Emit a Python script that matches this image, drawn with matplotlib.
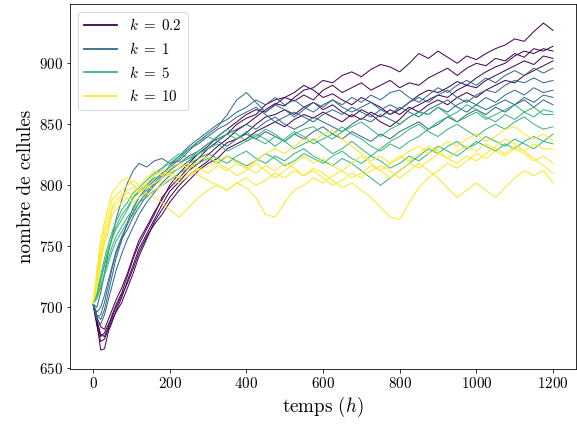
import numpy as np
import matplotlib
matplotlib.use("Agg")
import matplotlib.pyplot as plt
from matplotlib.lines import Line2D

plt.rcParams['font.family'] = 'serif'
plt.rcParams['font.serif'] = ['cmr10', 'DejaVu Serif']
plt.rcParams['mathtext.fontset'] = 'cm'
plt.rcParams['axes.formatter.use_mathtext'] = True
plt.rcParams['axes.unicode_minus'] = False

# time grid (h)
temps = [0, 10, 20, 30, 40, 50, 60, 75, 90, 105, 120, 140, 160, 180, 200,
         225, 250, 275, 300, 325, 350, 375, 400, 425, 450, 475, 500, 525, 550, 575, 600,
         625, 650, 675, 700, 725, 750, 775, 800, 825, 850, 875, 900, 925, 950, 975, 1000,
         1025, 1050, 1075, 1100, 1125, 1150, 1175, 1200]

k_labels = [r"$k\;=\;0.2$", r"$k\;=\;1$", r"$k\;=\;5$", r"$k\;=\;10$"]

# k = 0.2
k02_run1 = [703, 688, 665, 666, 680, 688, 697, 708, 722, 735, 748, 760, 772, 784, 795,
            803, 812, 818, 825, 832, 838, 845, 850, 856, 862, 867, 865, 872, 878, 880, 886,
            884, 890, 893, 889, 895, 899, 897, 893, 900, 908, 904, 910, 905, 900, 906, 903,
            908, 912, 915, 920, 918, 926, 933, 927]
k02_run2 = [703, 690, 678, 676, 684, 694, 702, 712, 726, 740, 752, 764, 776, 790, 798,
            806, 815, 822, 830, 836, 842, 850, 855, 858, 866, 870, 872, 876, 882, 878, 872,
            875, 870, 866, 872, 868, 864, 858, 862, 868, 874, 878, 876, 880, 885, 882, 888,
            893, 897, 900, 906, 910, 908, 912, 910]
k02_run3 = [703, 685, 672, 674, 682, 690, 696, 704, 716, 728, 742, 756, 770, 780, 790,
            800, 808, 814, 820, 828, 835, 838, 843, 850, 856, 858, 862, 858, 864, 868, 862,
            866, 860, 856, 862, 858, 852, 848, 854, 862, 866, 870, 874, 872, 878, 882, 880,
            886, 890, 894, 898, 902, 899, 906, 904]
k02_run4 = [703, 692, 684, 682, 690, 698, 706, 716, 728, 742, 755, 766, 778, 788, 800,
            810, 818, 826, 832, 840, 846, 852, 858, 862, 860, 866, 872, 869, 874, 870, 878,
            882, 876, 880, 884, 878, 882, 886, 880, 884, 882, 888, 892, 896, 890, 896, 900,
            898, 904, 902, 908, 905, 912, 910, 914]
k02_run5 = [703, 688, 676, 679, 686, 692, 700, 710, 720, 732, 745, 758, 768, 776, 786,
            796, 804, 812, 818, 822, 830, 834, 838, 844, 848, 852, 848, 854, 858, 855, 860,
            856, 852, 858, 854, 860, 856, 862, 858, 864, 860, 866, 870, 866, 872, 876, 872,
            878, 882, 886, 884, 890, 894, 898, 902]

# k = 1
k1_run1 = [703, 700, 712, 728, 745, 758, 772, 788, 802, 812, 818, 815, 820, 822, 818,
           820, 828, 836, 842, 848, 858, 870, 876, 868, 860, 866, 862, 856, 862, 868, 864,
           870, 866, 872, 868, 874, 870, 876, 878, 872, 868, 874, 880, 876, 882, 886, 882,
           888, 884, 890, 894, 890, 896, 892, 896]
k1_run2 = [703, 694, 690, 698, 712, 726, 740, 755, 770, 782, 790, 798, 804, 810, 814,
           822, 830, 834, 840, 846, 850, 856, 860, 864, 858, 852, 856, 860, 856, 852, 858,
           862, 858, 864, 860, 856, 862, 866, 862, 868, 872, 868, 874, 878, 872, 868, 874,
           878, 876, 882, 886, 884, 888, 884, 886]
k1_run3 = [703, 692, 694, 704, 718, 732, 744, 756, 764, 774, 782, 792, 800, 806, 812,
           818, 824, 828, 834, 838, 842, 846, 850, 846, 852, 856, 850, 846, 850, 856, 852,
           848, 844, 850, 855, 852, 858, 854, 850, 856, 860, 858, 864, 860, 866, 870, 866,
           872, 868, 874, 878, 874, 880, 876, 878]
k1_run4 = [703, 696, 700, 710, 722, 734, 746, 758, 768, 778, 786, 794, 802, 808, 816,
           824, 832, 838, 844, 850, 854, 860, 864, 870, 866, 872, 866, 870, 864, 860, 866,
           870, 864, 860, 864, 868, 862, 858, 864, 860, 856, 862, 866, 870, 864, 860, 866,
           862, 866, 870, 866, 872, 868, 874, 872]
k1_run5 = [703, 690, 686, 694, 706, 718, 730, 744, 756, 766, 776, 786, 794, 802, 808,
           814, 820, 826, 830, 836, 832, 838, 842, 838, 844, 840, 836, 842, 838, 844, 848,
           842, 838, 844, 840, 836, 842, 838, 844, 848, 852, 846, 850, 856, 852, 858, 862,
           858, 864, 860, 866, 870, 864, 870, 866]

# k = 5
k5_run1 = [703, 712, 726, 740, 752, 762, 770, 780, 786, 794, 798, 804, 810, 814, 818,
           824, 830, 836, 840, 836, 842, 838, 844, 838, 834, 840, 836, 842, 846, 848, 842,
           838, 844, 848, 852, 846, 840, 846, 850, 856, 860, 858, 864, 858, 852, 856, 860,
           854, 858, 862, 866, 860, 864, 858, 858]
k5_run2 = [703, 710, 722, 734, 746, 756, 764, 772, 780, 790, 796, 800, 806, 808, 814,
           818, 822, 826, 830, 834, 828, 832, 836, 840, 846, 842, 836, 830, 834, 838, 832,
           826, 830, 836, 830, 824, 830, 836, 840, 846, 850, 844, 840, 846, 850, 845, 840,
           846, 850, 846, 852, 856, 850, 846, 848]
k5_run3 = [703, 708, 718, 728, 740, 750, 758, 766, 774, 780, 790, 796, 800, 806, 810,
           814, 818, 822, 826, 822, 818, 824, 828, 822, 818, 824, 820, 826, 830, 824, 820,
           816, 822, 818, 812, 806, 800, 806, 812, 818, 824, 830, 826, 832, 836, 830, 834,
           840, 836, 832, 838, 834, 830, 836, 834]
k5_run4 = [703, 711, 724, 736, 748, 758, 766, 776, 782, 790, 794, 800, 808, 814, 820,
           826, 822, 828, 834, 840, 846, 842, 836, 842, 838, 832, 838, 844, 840, 834, 838,
           842, 848, 842, 838, 832, 828, 834, 830, 836, 840, 846, 852, 856, 860, 866, 862,
           856, 852, 858, 854, 860, 856, 862, 860]
k5_run5 = [703, 707, 716, 726, 736, 746, 754, 762, 770, 776, 786, 790, 796, 800, 804,
           810, 814, 818, 822, 818, 824, 820, 816, 820, 826, 822, 816, 820, 826, 822, 818,
           824, 828, 822, 818, 824, 820, 814, 818, 824, 820, 826, 832, 828, 824, 830, 836,
           832, 828, 834, 830, 836, 840, 836, 842]

# k = 10
k10_run1 = [703, 730, 755, 770, 782, 794, 798, 804, 806, 800, 796, 802, 808, 812, 808,
            814, 818, 812, 816, 820, 824, 818, 814, 820, 826, 830, 826, 832, 838, 836, 842,
            845, 838, 832, 826, 820, 824, 818, 822, 828, 832, 826, 830, 836, 832, 838, 842,
            836, 840, 846, 848, 842, 838, 842, 837]
k10_run2 = [703, 722, 744, 760, 770, 782, 788, 792, 796, 798, 794, 798, 802, 806, 810,
            806, 812, 808, 804, 800, 796, 802, 798, 790, 776, 774, 786, 796, 800, 806, 802,
            808, 812, 806, 810, 816, 812, 806, 812, 818, 814, 820, 826, 822, 828, 832, 828,
            834, 830, 826, 832, 828, 834, 830, 830]
k10_run3 = [703, 718, 740, 755, 766, 780, 784, 790, 794, 792, 796, 800, 796, 800, 806,
            802, 808, 814, 810, 816, 812, 818, 814, 810, 816, 812, 818, 814, 808, 814, 810,
            804, 798, 802, 796, 790, 782, 774, 772, 786, 798, 806, 812, 818, 814, 820, 826,
            822, 828, 824, 830, 826, 820, 824, 818]
k10_run4 = [703, 714, 736, 752, 762, 776, 780, 786, 790, 786, 790, 794, 790, 786, 780,
            774, 782, 790, 796, 800, 796, 802, 806, 800, 804, 810, 806, 812, 808, 812, 806,
            800, 804, 810, 806, 812, 816, 812, 806, 812, 818, 812, 806, 798, 790, 796, 802,
            796, 790, 798, 806, 812, 808, 812, 802]
k10_run5 = [703, 726, 750, 765, 776, 788, 792, 796, 800, 804, 800, 806, 812, 808, 814,
            818, 814, 820, 824, 818, 814, 808, 812, 818, 812, 806, 812, 818, 824, 818, 822,
            816, 812, 818, 824, 818, 812, 818, 824, 820, 826, 832, 828, 822, 818, 824, 820,
            826, 832, 838, 834, 828, 822, 816, 810]

groups = [
    [k02_run1, k02_run2, k02_run3, k02_run4, k02_run5],
    [k1_run1, k1_run2, k1_run3, k1_run4, k1_run5],
    [k5_run1, k5_run2, k5_run3, k5_run4, k5_run5],
    [k10_run1, k10_run2, k10_run3, k10_run4, k10_run5],
]

colors = plt.cm.viridis(np.linspace(0, 1, 4))

W, H = 577, 424
fig = plt.figure(figsize=(W / 72, H / 72), dpi=72)
ax = fig.add_axes([70 / W, 1 - 369.3 / H, (576 - 70) / W, (369.3 - 4) / H])

for runs, c in zip(groups, colors):
    for r in runs:
        ax.plot(temps, r, color=c, lw=1.0)

handles = [Line2D([0], [0], color=c, lw=1.8) for c in colors]
ax.legend(handles, k_labels, loc='upper left', fontsize=15, handlelength=2.25)

ax.set_xlim(-60, 1260)
ax.set_ylim(649.2, 948.6)
ax.set_xticks([0, 200, 400, 600, 800, 1000, 1200])
ax.set_yticks([650, 700, 750, 800, 850, 900])
ax.tick_params(labelsize=15)
ax.set_xlabel("temps $(h)$", fontsize=19)
ax.set_ylabel("nombre de cellules", fontsize=19)

fig.savefig("out.png", dpi=72)
